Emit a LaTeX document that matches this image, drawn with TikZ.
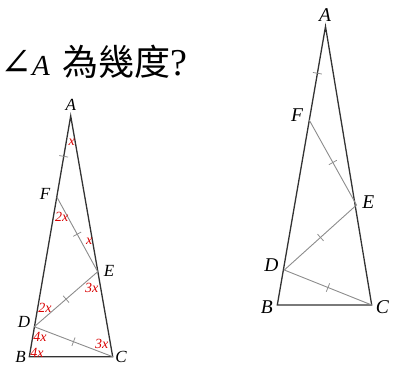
\documentclass[tikz,border=0pt]{standalone}
\usepackage{fontspec}
\setmainfont{Liberation Serif}
\newfontfamily\cjk{Noto Sans CJK TC}
\newfontfamily\symfont{DejaVu Serif}
\usetikzlibrary{decorations.markings}
\begin{document}
\begin{tikzpicture}[x=1pt,y=-1pt,
  side/.style={draw=black!80,line width=1.3pt},
  inner/.style={draw=black!45,line width=0.9pt},
  tickmark/.style={postaction={decorate},decoration={markings,
     mark=at position 0.5 with {\draw[black!45,line width=0.75pt] (0,-4.5pt)--(0,4.5pt);}}},
  vlab/.style={font=\fontsize{17}{17}\selectfont\itshape,inner sep=0pt},
  vlabr/.style={font=\fontsize{19.5}{20}\selectfont\itshape,inner sep=0pt},
  ang/.style={font=\fontsize{14}{14}\selectfont\itshape,text=red!85!black,inner sep=0pt}]
\useasboundingbox (0,0) rectangle (395,367);
% title
\node[anchor=base west,inner sep=0pt,font=\fontsize{29}{32}\selectfont] (title) at (0,75)
  {{\symfont\fontsize{38}{38}\selectfont ∠}\textit{A}\hspace{13pt}{\cjk\fontsize{36}{36}\selectfont 為幾度}{\fontsize{38}{38}\selectfont ?}};
% left triangle
\coordinate (lA) at (70.7,116);
\coordinate (lB) at (29.3,356.7);
\coordinate (lC) at (112.7,356.7);
\coordinate (lF) at (56.7,196.7);
\coordinate (lE) at (97.7,271.7);
\coordinate (lD) at (34.3,326.7);
\draw[side] (lA) -- (lB) -- (lC) -- cycle;
\draw[inner] (lF) -- (lE) -- (lD) -- (lC);
\path[tickmark] (lA) -- (lF);
\path[tickmark] (lF) -- (lE);
\path[tickmark] (lE) -- (lD);
\path[tickmark] (lD) -- (lC);
\node[vlab] (tA) at (70.7,105) {A};
\node[vlab] (tF) at (45,194) {F};
\node[vlab] (tE) at (109,270.5) {E};
\node[vlab] (tD) at (24,321.7) {D};
\node[vlab] (tB) at (20.5,356.7) {B};
\node[vlab] (tC) at (121,356.7) {C};
\node[ang] (a1) at (71.7,142.5) {x};
\node[ang] (a2) at (61.7,216.7) {2x};
\node[ang] (a3) at (89.3,241.7) {x};
\node[ang] (a4) at (91.7,288.3) {3x};
\node[ang] (a5) at (45,308.3) {2x};
\node[ang] (a6) at (40,336.7) {4x};
\node[ang] (a7) at (37,352.5) {4x};
\node[ang] (a8) at (101.7,344) {3x};
% right triangle
\coordinate (rA) at (325.5,26.5);
\coordinate (rB) at (277.3,305);
\coordinate (rC) at (371.7,305);
\coordinate (rF) at (309.2,120);
\coordinate (rE) at (356.5,205);
\coordinate (rD) at (284.3,270);
\draw[side] (rA) -- (rB) -- (rC) -- cycle;
\draw[inner] (rF) -- (rE) -- (rD) -- (rC);
\path[tickmark] (rA) -- (rF);
\path[tickmark] (rF) -- (rE);
\path[tickmark] (rE) -- (rD);
\path[tickmark] (rD) -- (rC);
\node[vlabr] (sA) at (325,14.7) {A};
\node[vlabr] (sF) at (297,115) {F};
\node[vlabr] (sE) at (368.3,202) {E};
\node[vlabr] (sD) at (271.3,265) {D};
\node[vlabr] (sB) at (266.7,306.7) {B};
\node[vlabr] (sC) at (382.3,306.7) {C};
\end{tikzpicture}
\end{document}
